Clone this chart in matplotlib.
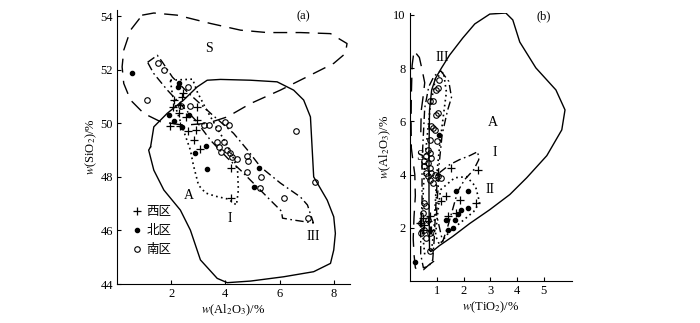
import numpy as np
import matplotlib
matplotlib.use('Agg')
import matplotlib.pyplot as plt
from matplotlib.lines import Line2D

plt.rcParams['font.family'] = ['Liberation Serif', 'Noto Sans CJK SC']
plt.rcParams['mathtext.fontset'] = 'stix'

# ---------------- panel (a): SiO2 vs Al2O3 ----------------
a_S_x = [0.93, 1.36, 2.22, 3.45, 4.56, 5.54, 6.77, 7.88, 8.49, 8.43, 8.0, 7.02, 6.03, 4.93, 4.07, 3.33, 2.46, 1.61, 0.99, 0.50, 0.25, 0.19, 0.25, 0.50]
a_S_y = [54.04, 54.12, 54.04, 53.73, 53.48, 53.39, 53.39, 53.35, 52.98, 52.61, 52.24, 51.74, 51.24, 50.74, 50.24, 50.0, 49.93, 50.06, 50.37, 50.87, 51.49, 52.11, 52.73, 53.48]

a_A_x = [1.24, 1.36, 1.85, 2.46, 2.96, 3.33, 3.82, 4.93, 5.91, 6.52, 6.89, 7.14, 7.20, 7.26, 7.76, 8.0, 8.06, 8.0, 7.88, 7.26, 6.15, 4.93, 4.07, 3.70, 3.08, 2.71, 2.34, 1.73, 1.36, 1.17]
a_A_y = [49.12, 49.87, 50.37, 50.87, 51.36, 51.61, 51.64, 51.61, 51.55, 51.24, 50.87, 50.24, 49.12, 48.0, 47.13, 46.51, 45.89, 45.27, 44.77, 44.46, 44.27, 44.11, 44.05, 44.21, 44.90, 46.01, 46.76, 47.51, 48.25, 49.0]

a_I_x = [1.97, 2.79, 2.97, 3.27, 3.63, 4.0, 4.30, 4.45, 4.48, 4.41, 4.11, 3.63, 3.27, 3.01, 2.82, 2.71, 2.45, 2.20, 2.05]
a_I_y = [51.61, 51.65, 51.16, 50.57, 49.93, 49.30, 48.70, 48.25, 47.51, 46.95, 47.17, 47.28, 47.40, 47.69, 48.44, 49.0, 49.75, 50.49, 51.05]

a_III_x = [1.13, 1.49, 1.68, 2.05, 2.64, 3.45, 4.30, 4.82, 5.30, 6.03, 6.77, 7.03, 7.25, 6.51, 6.11, 6.07, 5.77, 5.18, 4.56, 4.08, 3.45, 2.90, 2.45, 1.86, 1.35]
a_III_y = [52.28, 52.54, 52.28, 51.72, 51.13, 50.38, 49.63, 49.0, 48.37, 47.77, 47.25, 46.95, 46.28, 46.39, 46.46, 46.72, 47.02, 47.62, 48.25, 48.70, 49.37, 50.12, 50.60, 51.24, 51.87]

a_west_x = [2.10, 2.41, 2.44, 2.07, 2.34, 2.96, 2.53, 2.96, 1.97, 2.34, 2.90, 2.83, 3.08, 4.19, 4.19, 2.28, 2.62]
a_west_y = [50.87, 50.99, 51.12, 50.62, 50.68, 50.62, 50.24, 50.12, 49.90, 49.90, 49.75, 49.37, 49.06, 48.35, 47.20, 50.40, 49.70]

a_north_x = [0.56, 2.24, 2.28, 1.91, 2.12, 2.41, 2.65, 3.27, 2.87, 3.33, 5.23, 5.07]
a_north_y = [51.88, 51.34, 51.49, 50.31, 50.09, 49.87, 50.31, 49.16, 48.90, 48.29, 48.32, 47.61]

a_south_x = [1.51, 1.73, 1.11, 2.61, 2.37, 2.71, 3.39, 4.0, 4.13, 3.72, 6.62, 3.70, 3.94, 3.76, 3.85, 4.07, 4.16, 4.25, 4.44, 4.80, 4.83, 4.80, 5.32, 5.27, 6.15, 7.29, 7.04, 3.20]
a_south_y = [52.24, 51.99, 50.89, 51.34, 50.64, 50.64, 49.93, 50.06, 49.93, 49.81, 49.71, 49.31, 49.31, 49.12, 48.94, 49.0, 48.88, 48.75, 48.66, 48.79, 48.60, 48.19, 48.0, 47.57, 47.20, 47.82, 46.45, 49.93]

# ---------------- panel (b): Al2O3 vs TiO2 ----------------
b_A_x = [0.73, 0.71, 0.71, 0.73, 0.81, 0.96, 1.18, 1.48, 1.97, 2.42, 2.98, 3.58, 3.84, 4.10, 4.70, 5.45, 5.79, 5.67, 5.11, 4.36, 3.73, 2.98, 2.23, 1.59, 1.10, 0.88, 0.77]
b_A_y = [1.18, 3.06, 4.93, 6.43, 7.18, 7.63, 8.01, 8.49, 9.13, 9.66, 10.03, 10.07, 9.81, 8.98, 8.01, 7.18, 6.43, 5.68, 4.71, 3.88, 3.25, 2.68, 2.16, 1.67, 1.33, 1.15, 1.11]

b_S_x = [0.90, 0.70, 0.50, 0.30, 0.20, 0.15, 0.12, 0.15, 0.20, 0.18, 0.10, 0.05, 0.04, 0.05, 0.08, 0.15, 0.35, 0.45, 0.55, 0.50, 0.42, 0.40]
b_S_y = [0.75, 0.60, 0.42, 0.38, 0.50, 1.00, 1.60, 2.40, 3.20, 4.00, 4.60, 5.00, 6.00, 7.00, 8.10, 8.65, 8.40, 7.95, 7.45, 7.00, 6.40, 5.40]

b_III_x = [1.15, 1.45, 1.55, 1.40, 1.20, 1.10, 1.00, 0.95, 0.90, 0.85, 0.70, 0.50, 0.40, 0.40, 0.45, 0.45, 0.50, 0.55, 0.70, 0.90]
b_III_y = [7.90, 7.50, 6.90, 6.40, 5.50, 4.50, 3.50, 2.50, 1.50, 0.80, 0.55, 0.50, 1.00, 2.00, 3.00, 4.50, 5.50, 6.50, 7.30, 7.70]

b_IIIdot_x = [0.55, 0.45, 0.50, 0.60, 0.75, 0.95, 1.25, 1.36, 1.22, 1.10, 1.00, 0.95, 0.90, 0.80]
b_IIIdot_y = [1.0, 2.0, 3.5, 5.0, 6.5, 7.6, 7.85, 7.1, 6.0, 5.0, 4.0, 3.0, 2.0, 1.1]

b_I_x = [1.10, 1.48, 1.85, 2.23, 2.53, 2.57, 2.38, 2.04, 1.78, 1.59, 1.40, 1.22, 0.99, 1.03]
b_I_y = [4.07, 4.37, 4.56, 4.71, 4.86, 4.56, 4.18, 3.81, 3.36, 2.68, 2.01, 1.48, 2.50, 3.25]

b_II_x = [1.14, 1.67, 2.12, 2.45, 2.60, 2.38, 1.93, 1.48, 1.10, 0.95, 1.03]
b_II_y = [3.43, 3.88, 3.92, 3.55, 2.95, 2.61, 2.23, 1.86, 1.37, 1.71, 2.50]

b_south_x = [0.98, 0.85, 1.04, 0.92, 0.79, 1.02, 0.73, 0.67, 0.73, 0.61, 0.79, 0.54, 0.67, 0.54, 0.73, 0.61, 0.79, 0.67, 0.92, 0.73, 1.04, 0.85, 0.54, 0.61, 0.48, 0.67, 0.42, 0.54, 0.42, 0.61, 0.73, 1.04, 1.10, 0.73, 0.98, 0.85, 1.17, 0.73]
b_south_y = [7.18, 6.75, 6.31, 5.68, 5.81, 5.25, 5.31, 4.93, 4.81, 4.68, 4.62, 4.50, 4.44, 4.31, 4.25, 4.06, 4.06, 3.93, 4.00, 3.81, 3.93, 3.69, 2.94, 2.81, 2.56, 2.31, 2.19, 1.93, 1.81, 1.62, 1.12, 7.25, 7.56, 6.75, 6.25, 5.75, 3.87, 1.81]

b_north_x = [1.08, 0.17, 1.73, 2.16, 2.16, 1.79, 1.67, 1.60, 1.42, 1.36, 1.89]
b_north_y = [5.50, 0.71, 3.37, 3.37, 2.75, 2.50, 2.31, 2.00, 1.93, 2.31, 2.66]

b_west_x = [1.54, 2.54, 1.17, 1.33, 1.85, 2.48, 1.42, 1.73, 0.48, 0.42, 0.67, 0.48, 0.73, 0.54, 0.73, 0.79, 0.36]
b_west_y = [4.25, 4.18, 3.00, 3.18, 3.06, 2.94, 2.43, 2.56, 2.37, 2.19, 2.25, 1.93, 1.93, 2.12, 2.43, 1.93, 2.19]

legend_labels = ['西区', '北区', '南区']

K = 'black'
LW = 1.0
DASH = (10, 6)
DASHDOT = (6, 2.5, 1.2, 2.5)
DOT = (1, 2)


def closed(x, y):
    return np.r_[x, x[:1]], np.r_[y, y[:1]]


def style_axes(ax):
    for s in ('top', 'right'):
        ax.spines[s].set_visible(False)
    for s in ('left', 'bottom'):
        ax.spines[s].set_linewidth(0.8)
    ax.tick_params(direction='in', length=3, width=0.8, labelsize=9, pad=3)


def points(ax, wx, wy, nx, ny, sx, sy):
    ax.plot(wx, wy, ls='none', marker='+', ms=6, mew=0.9, color=K)
    ax.plot(nx, ny, ls='none', marker='o', ms=3, color=K)
    ax.plot(sx, sy, ls='none', marker='o', ms=4, mfc='none', mec=K, mew=0.8)


fig = plt.figure(figsize=(7, 3.23), dpi=100)

# ---- panel a
ax = fig.add_axes([0.1671, 0.1207, 0.3329, 0.8498])
ax.plot(*closed(a_S_x, a_S_y), color=K, lw=LW, dashes=DASH)
ax.plot(*closed(a_A_x, a_A_y), color=K, lw=LW)
ax.plot(*closed(a_I_x, a_I_y), color=K, lw=1.2, dashes=DOT)
ax.plot(*closed(a_III_x, a_III_y), color=K, lw=LW, dashes=DASHDOT)
points(ax, a_west_x, a_west_y, a_north_x, a_north_y, a_south_x, a_south_y)
ax.set_xlim(0, 8.6)
ax.set_ylim(44, 54.25)
ax.set_xticks([2, 4, 6, 8])
ax.set_yticks([44, 46, 48, 50, 52, 54])
style_axes(ax)
ax.set_xlabel(r'$w$(Al$_2$O$_3$)/%', fontsize=9, labelpad=2)
ax.set_ylabel(r'$w$(SiO$_2$)/%', fontsize=9, labelpad=1)
ax.text(6.88, 54.0, '(a)', fontsize=9, ha='center', va='center')
ax.text(3.38, 52.8, 'S', fontsize=10, ha='center', va='center')
ax.text(2.64, 47.32, 'A', fontsize=10, ha='center', va='center')
ax.text(4.15, 46.46, 'I', fontsize=10, ha='center', va='center')
ax.text(7.25, 45.79, 'III', fontsize=10, ha='center', va='center')
handles = [Line2D([], [], ls='none', marker='+', ms=6, mew=0.9, color=K),
           Line2D([], [], ls='none', marker='o', ms=3, color=K),
           Line2D([], [], ls='none', marker='o', ms=4, mfc='none', mec=K, mew=0.8)]
ax.legend(handles, legend_labels, loc='center left', bbox_to_anchor=(0.062, 0.193),
          frameon=False, handlelength=0.9, handletextpad=0.3, borderpad=0,
          borderaxespad=0, labelspacing=0.55, fontsize=9)

# ---- panel b
bx = fig.add_axes([0.5857, 0.1300, 0.2314, 0.8297])
bx.plot(b_S_x, b_S_y, color=K, lw=LW, dashes=DASH)
bx.plot(*closed(b_A_x, b_A_y), color=K, lw=LW)
bx.plot(*closed(b_III_x, b_III_y), color=K, lw=LW, dashes=DASHDOT)
bx.plot(b_IIIdot_x, b_IIIdot_y, color=K, lw=1.2, dashes=DOT)
bx.plot(*closed(b_I_x, b_I_y), color=K, lw=LW, dashes=DASHDOT)
bx.plot(*closed(b_II_x, b_II_y), color=K, lw=1.2, dashes=DOT)
points(bx, b_west_x, b_west_y, b_north_x, b_north_y, b_south_x, b_south_y)
bx.set_xlim(0, 6.05)
bx.set_ylim(0, 10.07)
bx.set_xticks([1, 2, 3, 4, 5])
bx.set_yticks([2, 4, 6, 8, 10])
style_axes(bx)
bx.set_xlabel(r'$w$(TiO$_2$)/%', fontsize=9, labelpad=2)
bx.set_ylabel(r'$w$(Al$_2$O$_3$)/%', fontsize=9, labelpad=0)
bx.text(5.0, 9.96, '(b)', fontsize=9, ha='center', va='center')
bx.text(0.36, 4.67, 'S', fontsize=10, ha='center', va='center')
bx.text(3.1, 5.95, 'A', fontsize=10, ha='center', va='center')
bx.text(3.17, 4.82, 'I', fontsize=10, ha='center', va='center')
bx.text(2.98, 3.43, 'II', fontsize=10, ha='center', va='center')
bx.text(1.22, 8.38, 'III', fontsize=10, ha='center', va='center')

fig.savefig('out.png', dpi=100)
